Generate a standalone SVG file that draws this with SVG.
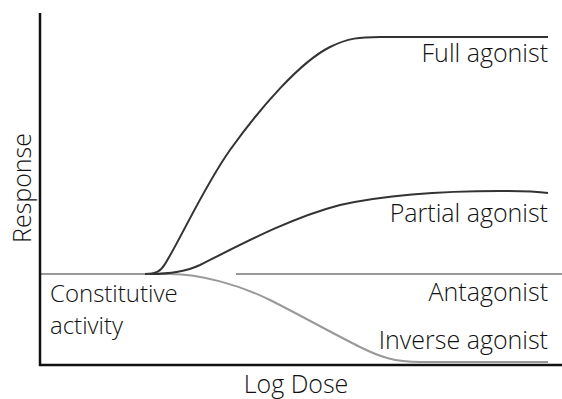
<svg xmlns="http://www.w3.org/2000/svg" width="562" height="399" viewBox="0 0 562 399">
<style>
text{font-family:"Open Sans","Noto Sans",sans-serif;font-weight:300;font-size:25px;fill:#111}
.r{text-anchor:end}
.c{font-size:24px}
.dark{fill:none;stroke:#333;stroke-width:2}
.gray{fill:none;stroke:#999;stroke-width:2}
.axis{fill:none;stroke:#111;stroke-width:2.5}
</style>
<rect width="562" height="399" fill="#fff"/>
<g id="connectors">
<path class="gray" d="M40 274 L170 274 C200 274 240 285 270 300 C300 315 330 332 360 347 C380 357 395 362 420 362 L548 362"/>
<path class="gray" d="M236 274 L562 274"/>
<path class="dark" d="M145 274 C156 274 161 271 165 264 C180 240 205 185 230 150 C260 108 300 62 330 47 C348 38 360 37 380 37 L548 37"/>
<path class="dark" d="M150 274 C170 274 185 272 200 265 C240 245 290 218 340 205 C390 194 450 191 500 191 C530 191 540 192 548 193"/>
<path class="axis" d="M40 13 L40 365 L562 365"/>
</g>
<g id="full"><text class="r" x="548" y="62">Full agonist</text></g>
<g id="partial"><text class="r" x="548" y="222">Partial agonist</text></g>
<g id="antagonist"><text class="r" x="548" y="301">Antagonist</text></g>
<g id="inverse"><text class="r" x="548" y="349">Inverse agonist</text></g>
<g id="constitutive"><text class="c" x="50" y="302">Constitutive</text><text class="c" x="50" y="334">activity</text></g>
<g id="xlabel"><text x="296" y="393" text-anchor="middle">Log Dose</text></g>
<g id="ylabel"><text transform="translate(31 188) rotate(-90)" text-anchor="middle">Response</text></g>
</svg>
